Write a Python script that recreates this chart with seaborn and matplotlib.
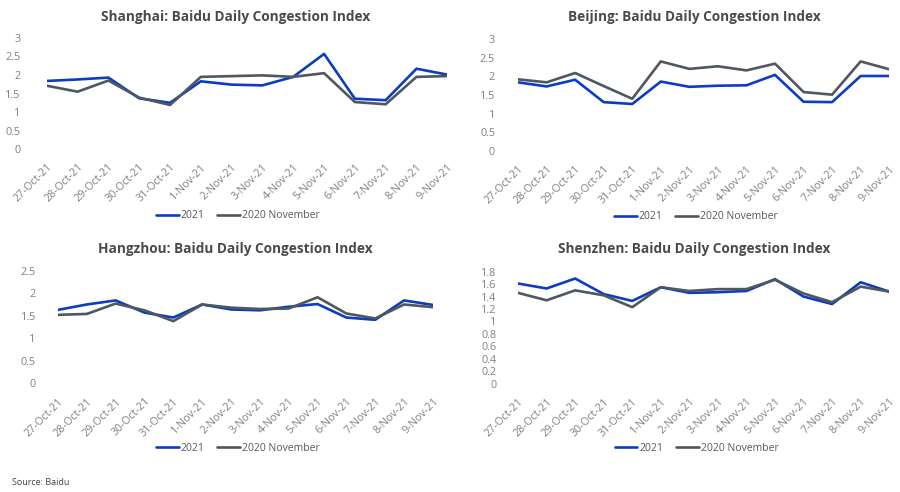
import pandas as pd
import matplotlib
matplotlib.use('Agg')
import matplotlib.pyplot as plt
import seaborn as sns

dates = ['27-Oct-21', '28-Oct-21', '29-Oct-21', '30-Oct-21', '31-Oct-21', '1-Nov-21', '2-Nov-21',
         '3-Nov-21', '4-Nov-21', '5-Nov-21', '6-Nov-21', '7-Nov-21', '8-Nov-21', '9-Nov-21']

shanghai_2021 = [1.84, 1.88, 1.93, 1.37, 1.25, 1.83, 1.74, 1.72, 1.95, 2.57, 1.36, 1.32, 2.17, 2.01]
shanghai_2020 = [1.71, 1.55, 1.85, 1.39, 1.19, 1.95, 1.97, 1.99, 1.95, 2.05, 1.27, 1.21, 1.95, 1.97]

beijing_2021 = [1.84, 1.73, 1.91, 1.31, 1.26, 1.86, 1.72, 1.75, 1.76, 2.04, 1.32, 1.31, 2.01, 2.01]
beijing_2020 = [1.92, 1.84, 2.09, 1.74, 1.40, 2.40, 2.20, 2.27, 2.16, 2.34, 1.58, 1.51, 2.40, 2.19]

hangzhou_2021 = [1.63, 1.75, 1.84, 1.57, 1.46, 1.75, 1.64, 1.62, 1.70, 1.76, 1.46, 1.41, 1.84, 1.74]
hangzhou_2020 = [1.52, 1.54, 1.77, 1.62, 1.38, 1.75, 1.68, 1.65, 1.66, 1.91, 1.55, 1.44, 1.75, 1.69]

shenzhen_2021 = [1.61, 1.53, 1.69, 1.44, 1.33, 1.55, 1.46, 1.47, 1.49, 1.68, 1.40, 1.28, 1.63, 1.48]
shenzhen_2020 = [1.46, 1.34, 1.50, 1.42, 1.23, 1.55, 1.49, 1.52, 1.52, 1.67, 1.45, 1.31, 1.56, 1.48]

series_names = ['2021', '2020 November']
colors = {'2021': '#0A3DC0', '2020 November': '#4F575F'}

sns.set_theme(style='white')
plt.rcParams['font.family'] = ['Open Sans', 'DejaVu Sans']

fig = plt.figure(figsize=(9, 4.92), dpi=100)

# (city, data, axes rect, ymax, ystep, ytick pad, title pos, legend pos)
panels = [
    ('Shanghai', shanghai_2021, shanghai_2020, [0.052, 0.697, 0.445, 0.2258], 3.0, 0.5, 19, (0.262, 0.965), (0.2644, 0.561)),
    ('Beijing', beijing_2021, beijing_2020, [0.5756, 0.693, 0.4124, 0.2277], 3.0, 0.5, 16.5, (0.771, 0.965), (0.773, 0.559)),
    ('Hangzhou', hangzhou_2021, hangzhou_2020, [0.0644, 0.2209, 0.4166, 0.2289], 2.5, 0.5, 16, (0.262, 0.494), (0.2644, 0.089)),
    ('Shenzhen', shenzhen_2021, shenzhen_2020, [0.5756, 0.2201, 0.4124, 0.2277], 1.8, 0.2, 15.5, (0.771, 0.494), (0.774, 0.089)),
]

for city, v2021, v2020, rect, ymax, ystep, ypad, tpos, lpos in panels:
    df = pd.DataFrame({
        'date': dates * 2,
        'value': v2021 + v2020,
        'series': ['2021'] * len(dates) + ['2020 November'] * len(dates),
    })
    ax = fig.add_axes(rect)
    sns.lineplot(data=df, x='date', y='value', hue='series', hue_order=series_names,
                 palette=colors, linewidth=1.9, sort=False, ax=ax)
    ax.set_xlim(0, len(dates) - 1)
    ax.set_ylim(0, ymax)
    n = int(round(ymax / ystep))
    yt = [round(i * ystep, 2) for i in range(n + 1)]
    ax.set_yticks(yt)
    ax.set_yticklabels(['{:g}'.format(t) for t in yt])
    ax.set_xticks(range(len(dates)))
    ax.set_xticklabels(dates, rotation=45, ha='right', rotation_mode='anchor')
    ax.tick_params(axis='both', length=0, labelsize=7.8, labelcolor='#808080')
    ax.tick_params(axis='x', pad=9)
    ax.tick_params(axis='y', pad=ypad)
    sns.despine(ax=ax, left=True, bottom=True)
    ax.set_xlabel('')
    ax.set_ylabel('')
    ax.grid(False)
    ax.legend(loc='center', bbox_to_anchor=lpos, bbox_transform=fig.transFigure, ncol=2,
              frameon=False, fontsize=7.5, labelcolor='#595959', handlelength=2.2,
              handletextpad=0.2, columnspacing=1.2, title=None)
    fig.text(tpos[0], tpos[1], city + ': Baidu Daily Congestion Index', ha='center', va='center',
             fontsize=9.8, fontweight='bold', color='#4A4A4A')

fig.text(0.013, 0.02, 'Source: Baidu', fontsize=6.5, color='#404040', ha='left', va='center')

fig.savefig('out.png', dpi=100)
